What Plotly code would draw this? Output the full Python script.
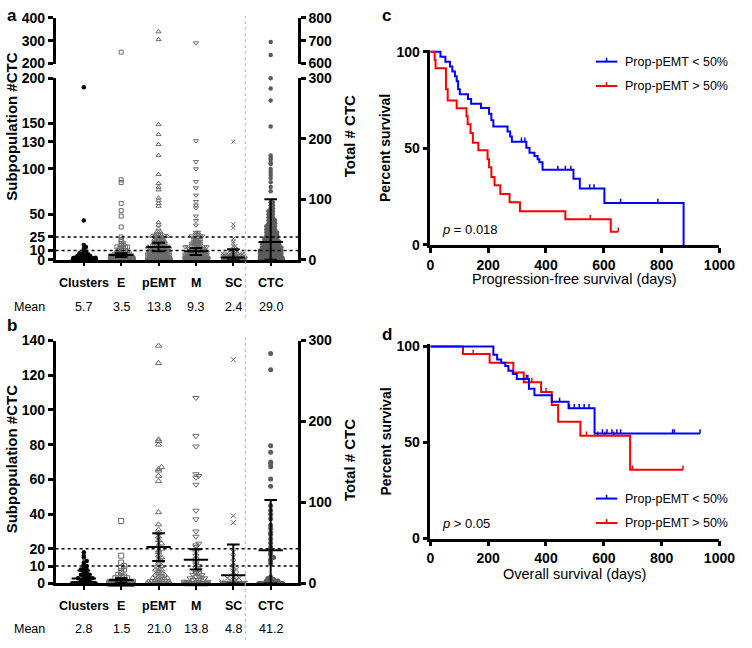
import plotly.graph_objects as go

W, H = 752, 648
FONT = "Liberation Sans, Arial, Helvetica, sans-serif"

# ---------------- data ----------------
categories = ["Clusters", "E", "pEMT", "M", "SC", "CTC"]
a_means_text = ["5.7", "3.5", "13.8", "9.3", "2.4", "29.0"]
b_means_text = ["2.8", "1.5", "21.0", "13.8", "4.8", "41.2"]

# panel a: value levels and number of samples at each level
a_clusters_levels = [190, 43, 16, 14, 12, 10, 9, 8, 7, 6, 5, 4, 3, 2, 1, 0]
a_clusters_counts = [1, 1, 1, 1, 1, 1, 1, 1, 1, 2, 2, 3, 4, 6, 10, 120]
a_E_levels = [250, 88, 85, 62, 54, 48, 36, 25, 22, 20, 18, 16, 14, 12, 10, 8, 6, 4, 2, 1, 0]
a_E_counts = [1, 1, 1, 1, 1, 1, 1, 1, 1, 1, 2, 2, 3, 3, 4, 6, 8, 12, 18, 25, 100]
a_pEMT_levels = [339, 305, 149, 138, 127, 115, 94, 84, 80, 77, 68, 65, 62, 59, 41, 38, 34,
                 30, 28, 26, 24, 22, 20, 18, 16, 14, 12, 10, 8, 6, 4, 2, 1, 0]
a_pEMT_counts = [1, 1, 1, 1, 1, 1, 1, 1, 1, 1, 1, 1, 1, 1, 1, 1, 1,
                 3, 3, 4, 4, 5, 6, 6, 7, 8, 9, 10, 12, 14, 16, 20, 25, 60]
a_M_levels = [290, 131, 108, 100, 86, 79, 71, 64, 60, 57, 48, 43, 38,
              30, 28, 26, 24, 22, 20, 18, 16, 14, 12, 10, 8, 6, 4, 2, 1, 0]
a_M_counts = [1, 1, 1, 1, 1, 1, 1, 1, 1, 1, 1, 1, 1,
              2, 2, 3, 3, 4, 4, 5, 5, 6, 7, 8, 10, 12, 15, 18, 22, 70]
a_SC_levels = [130, 39, 35, 23, 20, 18, 15, 12, 10, 9, 8, 7, 6, 5, 4, 3, 2, 1, 0]
a_SC_counts = [1, 1, 1, 1, 1, 1, 2, 2, 2, 2, 3, 3, 4, 5, 6, 8, 10, 15, 130]
a_CTC_levels = [694, 637, 300, 283, 263, 220, 172, 168, 165, 160, 158, 150, 145, 140, 135, 128, 120, 113,
                95, 90, 85, 80, 75, 70, 65, 60, 55, 50, 45, 40, 35, 30, 25, 20, 15, 10, 5, 3, 1, 0]
a_CTC_counts = [1, 1, 1, 1, 1, 1, 1, 1, 1, 1, 1, 1, 1, 1, 1, 1, 1, 1,
                2, 2, 2, 3, 3, 3, 4, 4, 5, 5, 6, 6, 7, 8, 9, 10, 12, 14, 18, 22, 30, 40]
# panel a error bars (CTC on right axis)
a_center = [2.5, 5.0, 14.0, 9.3, 2.4, 29.0]
a_low = [1.0, 3.0, 9.3, 5.0, 0.0, 0.0]
a_high = [4.0, 7.0, 18.6, 12.9, 11.5, 100.0]

# panel b
b_clusters_levels = [18, 16, 15, 13, 12, 11, 10, 9, 8, 7, 6, 5, 4, 3, 2, 1, 0]
b_clusters_counts = [1, 1, 1, 1, 1, 1, 1, 1, 2, 1, 2, 2, 2, 3, 3, 4, 36]
b_E_levels = [36, 16, 12, 10, 9, 8, 7, 6, 5, 4, 3, 2, 1, 0]
b_E_counts = [1, 1, 1, 1, 1, 1, 1, 1, 1, 2, 2, 3, 5, 42]
b_pEMT_levels = [137, 127, 83, 82, 80, 67, 66, 65, 62, 59, 41, 34, 31, 29, 27, 25, 23, 22, 20, 19,
                 18, 16, 15, 14, 13, 12, 11, 10, 9, 8, 7, 6, 5, 4, 3, 2, 1, 0]
b_pEMT_counts = [1, 1, 1, 1, 1, 1, 1, 1, 1, 1, 1, 1, 1, 1, 1, 1, 1, 1, 1, 1,
                 1, 1, 1, 1, 1, 1, 1, 1, 1, 2, 1, 2, 2, 2, 3, 3, 4, 15]
b_M_levels = [107, 85, 79, 63, 62, 61, 57, 42, 37, 30, 27, 23, 22, 21, 18, 16, 14, 12, 11, 10, 9, 8, 7,
              6, 5, 4, 3, 2, 1, 0]
b_M_counts = [1, 1, 1, 1, 1, 1, 1, 1, 1, 1, 1, 1, 1, 1, 1, 1, 1, 1, 1, 1, 1, 1, 1,
              2, 2, 2, 3, 3, 4, 24]
b_SC_levels = [129, 39, 35, 18, 15, 12, 10, 8, 7, 6, 5, 4, 3, 2, 1, 0]
b_SC_counts = [1, 1, 1, 1, 1, 1, 1, 1, 1, 1, 1, 1, 2, 3, 2, 44]
b_CTC_levels = [284, 264, 170, 162, 150, 148, 144, 129, 120, 96, 90, 85, 80, 72, 68, 63, 60, 55, 50, 45,
                42, 38, 35, 32, 30, 27, 25, 8, 6, 5, 4, 3, 2, 1, 0]
b_CTC_counts = [1, 1, 1, 1, 1, 1, 1, 1, 1, 1, 1, 1, 1, 1, 1, 1, 1, 1, 1, 1,
                1, 1, 1, 1, 1, 1, 1, 1, 1, 1, 1, 2, 1, 1, 28]
b_center = [2.8, 2.0, 21.0, 13.7, 4.7, 41.0]
b_low = [0.0, 0.5, 12.9, 8.0, 0.0, 0.0]
b_high = [7.5, 3.0, 29.0, 19.7, 22.5, 103.0]

# panel c: progression-free survival (Kaplan-Meier)
c_low_t = [0, 35, 52, 68, 76, 85, 91, 96, 102, 130, 141, 175, 203, 211, 218, 267, 276, 282,
           332, 343, 360, 371, 377, 388, 495, 517, 602, 876]
c_low_s = [100, 97.5, 94.9, 92.4, 89.9, 87.4, 84.8, 80.6, 78.1, 75.6, 73.1, 70.9, 68.0, 64.6, 61.3,
           58.8, 56.2, 53.4, 50.3, 47.8, 46.1, 44.4, 42.8, 38.9, 34.3, 29.3, 21.7, 0]
c_low_end = 876
c_low_cens = [315, 327, 441, 467, 486, 551, 566, 658, 787]
c_high_t = [0, 15, 18, 54, 60, 91, 125, 129, 139, 147, 166, 198, 203, 211, 222, 242, 274, 310, 467, 624]
c_high_s = [100, 95.8, 91.5, 80.6, 74.8, 70.8, 66.7, 62.5, 58.0, 53.0, 49.0, 44.4, 40.2, 35.2, 31.0,
            26.4, 22.1, 17.5, 13.3, 6.9]
c_high_end = 650
c_high_cens = [553, 650]

# panel d: overall survival (Kaplan-Meier)
d_low_t = [0, 218, 231, 245, 259, 270, 285, 299, 341, 360, 420, 478, 568]
d_low_s = [100, 95.7, 93.2, 91.5, 89.8, 87.3, 85.6, 83.0, 78.0, 74.6, 71.2, 67.8, 54.7]
d_low_end = 933
d_low_cens = [332, 337, 447, 481, 498, 515, 532, 549, 595, 611, 628, 645, 658, 838, 844, 933]
d_high_t = [0, 113, 205, 287, 323, 383, 420, 442, 519, 691]
d_high_s = [100, 96.0, 91.5, 86.4, 81.4, 76.3, 69.5, 60.8, 53.5, 35.8]
d_high_end = 874
d_high_cens = [148, 351, 400, 540, 579, 604, 635, 699, 874]

legend_labels = ["Prop-pEMT < 50%", "Prop-pEMT > 50%"]
km_colors = ["#0000ff", "#ff0000"]

# ---------------- helpers ----------------
def fx(px):
    return px / W


def fy(py):
    return 1 - py / H


X_RANGE = [-0.755, 5.73]
PX_PER_X = (302 - 53) / (X_RANGE[1] - X_RANGE[0])
SEP_X = 4.32
GRAY = "#6c6c6c"


def styles(i, small):
    s = 4.5 if small else 5.5
    return [
        dict(symbol="circle", size=4.5, color="black"),
        dict(symbol="square-open", size=s - 0.5, color=GRAY, line=dict(width=1, color=GRAY)),
        dict(symbol="triangle-up-open", size=s, color=GRAY, line=dict(width=1, color=GRAY)),
        dict(symbol="triangle-down-open", size=s, color=GRAY, line=dict(width=1, color=GRAY)),
        dict(symbol="x-thin-open", size=s - 0.5, color=GRAY, line=dict(width=1, color=GRAY)),
        dict(symbol="circle", size=4.5 if small else 5, color="#5c5c5c"),
    ][i]


def expand(levels, counts):
    out = []
    for v, c in zip(levels, counts):
        out += [v] * c
    return sorted(out)


def swarm(vals, ppu, dot, maxhalf=12.5):
    rows = {}
    offs = []
    slots = 2 * int(maxhalf // dot) + 1
    for v in vals:
        key = int(v * ppu // dot)
        n = rows.get(key, 0)
        rows[key] = n + 1
        k = n % slots
        wrap = n // slots
        j = ((k + 1) // 2) * (1 if k % 2 else -1)
        off = j * dot + (dot / 2 if wrap % 2 else 0)
        if abs(off) > maxhalf:
            off -= dot if off > 0 else -dot
        offs.append(off / PX_PER_X)
    return offs


fig = go.Figure()


def add_group(i, vals, ppu, xa, ya, dot, small):
    if not vals:
        return
    offs = swarm(vals, ppu, dot)
    fig.add_trace(go.Scatter(x=[i + o for o in offs], y=vals, mode="markers", xaxis=xa, yaxis=ya,
                             marker=styles(i, small), cliponaxis=False, hoverinfo="skip"))


def add_errbars(centers, lows, highs, xa, yl, yr):
    hw = 12.5 / PX_PER_X
    cw = 6.5 / PX_PER_X
    for i, (c, lo, hi) in enumerate(zip(centers, lows, highs)):
        xs = [i - hw, i + hw, None, i, i, None, i - cw, i + cw, None, i - cw, i + cw]
        ys = [c, c, None, lo, hi, None, lo, lo, None, hi, hi]
        fig.add_trace(go.Scatter(x=xs, y=ys, mode="lines", xaxis=xa, yaxis=(yr if i == 5 else yl),
                                 line=dict(color="black", width=2), hoverinfo="skip"))


# ---------- panel a ----------
a_groups = [(a_clusters_levels, a_clusters_counts), (a_E_levels, a_E_counts), (a_pEMT_levels, a_pEMT_counts),
            (a_M_levels, a_M_counts), (a_SC_levels, a_SC_counts), (a_CTC_levels, a_CTC_counts)]
for i, (lv, ct) in enumerate(a_groups):
    vals = expand(lv, ct)
    if i < 5:
        lower = [v for v in vals if v <= 200]
        upper = [v for v in vals if v > 200]
        add_group(i, lower, 186 / 200, "x", "y", 2.2, True)
        add_group(i, upper, 47 / 200, "x2", "y3", 2.2, True)
    else:
        lower = [v for v in vals if v <= 300]
        upper = [v for v in vals if v > 300]
        add_group(i, lower, 186 / 300, "x", "y2", 2.2, True)
        add_group(i, upper, 47 / 200, "x2", "y4", 2.2, True)
add_errbars(a_center, a_low, a_high, "x", "y", "y2")

# ---------- panel b ----------
b_groups = [(b_clusters_levels, b_clusters_counts), (b_E_levels, b_E_counts), (b_pEMT_levels, b_pEMT_counts),
            (b_M_levels, b_M_counts), (b_SC_levels, b_SC_counts), (b_CTC_levels, b_CTC_counts)]
for i, (lv, ct) in enumerate(b_groups):
    vals = expand(lv, ct)
    if i < 5:
        add_group(i, vals, 249 / 140, "x3", "y5", 3.0, False)
    else:
        add_group(i, vals, 249 / 300, "x3", "y6", 3.0, False)
add_errbars(b_center, b_low, b_high, "x3", "y5", "y6")


# ---------- KM panels ----------
def level_at(t, s, tt):
    lvl = s[0]
    for a, b in zip(t, s):
        if a <= tt:
            lvl = b
    return lvl


def add_km(t, s, t_end, cens, color, xa, ya):
    xs = list(t) + [t_end]
    ys = list(s) + [s[-1]]
    fig.add_trace(go.Scatter(x=xs, y=ys, mode="lines", xaxis=xa, yaxis=ya,
                             line=dict(color=color, width=2, shape="hv"), hoverinfo="skip"))
    cx, cy = [], []
    for tt in cens:
        lv = level_at(t, s, tt)
        cx += [tt, tt, None]
        cy += [lv, lv + 2.2, None]
    fig.add_trace(go.Scatter(x=cx, y=cy, mode="lines", xaxis=xa, yaxis=ya,
                             line=dict(color=color, width=1.5), hoverinfo="skip"))


add_km(c_low_t, c_low_s, c_low_end, c_low_cens, km_colors[0], "x4", "y7")
add_km(c_high_t, c_high_s, c_high_end, c_high_cens, km_colors[1], "x4", "y7")
add_km(d_high_t, d_high_s, d_high_end, d_high_cens, km_colors[1], "x5", "y8")
add_km(d_low_t, d_low_s, d_low_end, d_low_cens, km_colors[0], "x5", "y8")

# ---------------- layout ----------------
tickfont_ab = dict(family=FONT, size=14, color="black", weight="bold")
tickfont_cd = dict(family=FONT, size=14, color="black", weight="bold")


def yax(domain, rng, tickvals, anchor, font, side="left", overlaying=None):
    d = dict(range=rng, tickvals=tickvals, ticktext=[str(v) for v in tickvals], anchor=anchor,
             showline=True, linewidth=2.5, linecolor="black", ticks="outside", ticklen=5, tickwidth=2.5,
             tickcolor="black", showgrid=False, zeroline=False, tickfont=font, side=side, fixedrange=True)
    if overlaying:
        d["overlaying"] = overlaying
    else:
        d["domain"] = domain
    return d


def xax_cat(anchor, visible=True):
    return dict(domain=[fx(53), fx(302)], range=X_RANGE, anchor=anchor, visible=visible,
                showline=True, linewidth=2.5, linecolor="black", ticks="outside", ticklen=4, tickwidth=2,
                tickcolor="black", tickvals=list(range(6)), showticklabels=False, showgrid=False,
                zeroline=False, fixedrange=True)


def xax_km(anchor):
    tv = [0, 200, 400, 600, 800, 1000]
    return dict(domain=[fx(438), fx(735)], range=[0, 1000], anchor=anchor, tickvals=tv,
                ticktext=[str(v) for v in tv], showline=True, linewidth=2.5, linecolor="black",
                ticks="outside", ticklen=5, tickwidth=2.5, tickcolor="black", showgrid=False,
                zeroline=False, tickfont=tickfont_cd, fixedrange=True)


layout = dict(
    width=W, height=H, margin=dict(l=0, r=0, t=0, b=0), paper_bgcolor="white", plot_bgcolor="rgba(0,0,0,0)",
    showlegend=False, font=dict(family=FONT, color="black"),
    xaxis=xax_cat("y"),
    yaxis=yax([fy(258), fy(72)], [0, 200], [0, 10, 25, 50, 100, 130, 150, 200], "x", tickfont_ab),
    yaxis2=yax(None, [0, 300], [0, 100, 200, 300], "x", tickfont_ab, side="right", overlaying="y"),
    xaxis2=xax_cat("y3", visible=False),
    yaxis3=yax([fy(57), fy(10)], [200, 400], [200, 300, 400], "x2", tickfont_ab),
    yaxis4=yax(None, [600, 800], [600, 700, 800], "x2", tickfont_ab, side="right", overlaying="y3"),
    xaxis3=xax_cat("y5"),
    yaxis5=yax([fy(590), fy(341)], [0, 140], [0, 10, 20, 40, 60, 80, 100, 120, 140], "x3", tickfont_ab),
    yaxis6=yax(None, [0, 300], [0, 100, 200, 300], "x3", tickfont_ab, side="right", overlaying="y5"),
    xaxis4=xax_km("y7"),
    yaxis7=yax([fy(243), fy(43)], [0, 101], [0, 50, 100], "x4", tickfont_cd),
    xaxis5=xax_km("y8"),
    yaxis8=yax([fy(544), fy(345)], [0, 101], [0, 50, 100], "x5", tickfont_cd),
)
fig.update_layout(**layout)

shapes = []
# dotted reference lines
for y, yr in [(10, "y"), (25, "y"), (10, "y5"), (20, "y5")]:
    xr = "x" if yr == "y" else "x3"
    shapes.append(dict(type="line", xref=xr, yref=yr, x0=X_RANGE[0], x1=X_RANGE[1], y0=y, y1=y,
                       line=dict(color="black", width=1.5, dash="dot")))
# separators before CTC
shapes.append(dict(type="line", xref="x", yref="paper", x0=SEP_X, x1=SEP_X, y0=fy(318), y1=fy(8),
                   line=dict(color="#b5b5b5", width=1, dash="dot")))
shapes.append(dict(type="line", xref="x3", yref="paper", x0=SEP_X, x1=SEP_X, y0=fy(648), y1=fy(338),
                   line=dict(color="#b5b5b5", width=1, dash="dot")))
# KM legend samples
for (ly_blue, ly_red) in [(55, 80), (503, 528)]:
    for ly, col in [(ly_blue, km_colors[0]), (ly_red, km_colors[1])]:
        shapes.append(dict(type="line", xref="paper", yref="paper", x0=fx(608), x1=fx(630), y0=fy(ly), y1=fy(ly),
                           line=dict(color=col, width=2)))
        shapes.append(dict(type="line", xref="paper", yref="paper", x0=fx(619), x1=fx(619), y0=fy(ly), y1=fy(ly - 4),
                           line=dict(color=col, width=1.5)))
fig.update_layout(shapes=shapes)

ann = []


def txt(x, y, s, size, bold=False, xref="paper", xanchor="center", angle=0):
    ann.append(dict(x=x, y=y, xref=xref, yref="paper", text=s, showarrow=False, xanchor=xanchor,
                    yanchor="middle", textangle=angle,
                    font=dict(family=FONT, size=size, color="black", weight="bold" if bold else "normal")))


# panel letters
txt(fx(1), fy(8), "a", 17, bold=True, xanchor="left")
txt(fx(1), fy(326), "b", 17, bold=True, xanchor="left")
txt(fx(386), fy(8), "c", 17, bold=True, xanchor="left")
txt(fx(386), fy(335), "d", 17, bold=True, xanchor="left")

# categories and means
for xa, ycat, ymean, means in [("x", 282, 307, a_means_text), ("x3", 613, 637, b_means_text)]:
    for i, (c, m) in enumerate(zip(categories, means)):
        txt(i, fy(ycat), c, 12.5, bold=True, xref=xa)
        txt(i, fy(ymean), m, 12.5, xref=xa)
    txt(fx(8), fy(ymean), "Mean", 12.5, xanchor="left")

# axis titles panels a, b
txt(fx(8), fy(122), "Subpopulation #CTC", 15, bold=True, angle=-90)
txt(fx(355), fy(132), "Total # CTC", 15, bold=True, angle=-90)
txt(fx(8), fy(463), "Subpopulation #CTC", 15, bold=True, angle=-90)
txt(fx(355), fy(464), "Total # CTC", 15, bold=True, angle=-90)

# KM titles
txt(fx(392), fy(144), "Percent survival", 14, bold=True, angle=-90)
txt(fx(392), fy(445), "Percent survival", 14, bold=True, angle=-90)
txt(fx(586), fy(278), "Progression-free survival (days)", 14.5)
txt(fx(586), fy(580), "Overall survival (days)", 14.5)

# legends
for (ly_blue, ly_red) in [(55, 80), (503, 528)]:
    txt(fx(636), fy(ly_blue), legend_labels[0], 12.5, xanchor="left")
    txt(fx(636), fy(ly_red), legend_labels[1], 12.5, xanchor="left")

# p values
txt(fx(448), fy(227), "<i>p</i> = 0.018", 13, xanchor="left")
txt(fx(448), fy(529), "<i>p</i> > 0.05", 13, xanchor="left")

fig.update_layout(annotations=ann)
fig.write_html("out.html")
